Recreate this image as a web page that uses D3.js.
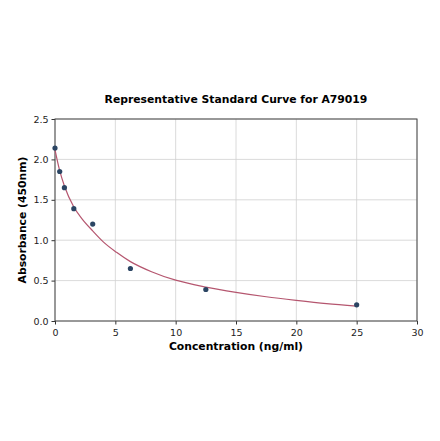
<!DOCTYPE html>
<html>
<head>
<meta charset="utf-8">
<script src="https://cdn.jsdelivr.net/npm/d3@7"></script>
<style>
  body { margin: 0; background: #fff; }
  text { font-family: "DejaVu Sans", sans-serif; }
</style>
</head>
<body>
<div id="chart"></div>
<script>
// measured standards
const conc = [0, 0.39, 0.78, 1.56, 3.125, 6.25, 12.5, 25];
const absorb = [2.14, 1.85, 1.65, 1.39, 1.2, 0.65, 0.39, 0.2];

// fitted curve
const curveX = [0, 0.39, 0.78, 1.56, 2.24, 3.125, 4, 5.1, 6.25, 8, 10, 12.5, 15, 17.5, 20, 22.5, 25];
const curveY = [2.12, 1.86, 1.67, 1.41, 1.265, 1.115, 0.98, 0.85, 0.735, 0.61, 0.505, 0.42, 0.355, 0.3, 0.255, 0.215, 0.185];

const xTicks = [0, 5, 10, 15, 20, 25, 30];
const yTicks = [0.0, 0.5, 1.0, 1.5, 2.0, 2.5];

const width = 440;
const height = 441;
const margin = {left: 55, right: 23, top: 119, bottom: 120};

var svg = d3.select("#chart")
	.append("svg")
	.attr("width", width)
	.attr("height", height);

var x = d3.scaleLinear().domain([0, 30]).range([margin.left, width - margin.right]);
var y = d3.scaleLinear().domain([0, 2.5]).range([height - margin.bottom, margin.top]);

// grid
svg.append("g")
	.selectAll("line")
	.data(xTicks)
	.enter()
	.append("line")
	.attr("x1", d => x(d)).attr("x2", d => x(d))
	.attr("y1", y(0)).attr("y2", y(2.5))
	.style("stroke", "#d0d0d0")
	.style("stroke-width", 0.8);

svg.append("g")
	.selectAll("line")
	.data(yTicks)
	.enter()
	.append("line")
	.attr("x1", x(0)).attr("x2", x(30))
	.attr("y1", d => y(d)).attr("y2", d => y(d))
	.style("stroke", "#d0d0d0")
	.style("stroke-width", 0.8);

// axes
var xAxis = svg.append("g")
	.attr("transform", "translate(0," + y(0) + ")")
	.call(d3.axisBottom(x).tickValues(xTicks).tickSize(3.5).tickSizeOuter(0).tickFormat(d3.format("d")));

var yAxis = svg.append("g")
	.attr("transform", "translate(" + x(0) + ",0)")
	.call(d3.axisLeft(y).tickValues(yTicks).tickSize(3.5).tickSizeOuter(0).tickFormat(d3.format(".1f")));

[xAxis, yAxis].forEach(function (a) {
	a.select(".domain").remove();
	a.selectAll("line").style("stroke", "#333");
	a.selectAll("text")
		.style("font-family", "DejaVu Sans, sans-serif")
		.style("font-size", "9.5px")
		.style("fill", "#222");
});
xAxis.selectAll("text").attr("dy", "0.85em");

// frame
svg.append("rect")
	.attr("x", x(0))
	.attr("y", y(2.5))
	.attr("width", x(30) - x(0))
	.attr("height", y(0) - y(2.5))
	.style("fill", "none")
	.style("stroke", "#444")
	.style("stroke-width", 1);

// curve
var line = d3.line()
	.x((d, i) => x(curveX[i]))
	.y(d => y(d))
	.curve(d3.curveMonotoneX);

svg.append("path")
	.attr("d", line(curveY))
	.style("fill", "none")
	.style("stroke", "#b5566f")
	.style("stroke-width", 1.2);

// points
svg.append("g")
	.selectAll("circle")
	.data(conc)
	.enter()
	.append("circle")
	.attr("cx", d => x(d))
	.attr("cy", (d, i) => y(absorb[i]))
	.attr("r", 2.6)
	.style("fill", "#2b4563");

// labels
svg.append("text")
	.attr("x", (x(0) + x(30)) / 2)
	.attr("y", 103)
	.attr("text-anchor", "middle")
	.style("font-size", "10.8px")
	.style("font-weight", "bold")
	.text("Representative Standard Curve for A79019");

svg.append("text")
	.attr("x", (x(0) + x(30)) / 2)
	.attr("y", 350)
	.attr("text-anchor", "middle")
	.style("font-size", "10.8px")
	.style("font-weight", "bold")
	.text("Concentration (ng/ml)");

svg.append("text")
	.attr("transform", "translate(26," + ((y(0) + y(2.5)) / 2) + ") rotate(-90)")
	.attr("text-anchor", "middle")
	.style("font-size", "10.8px")
	.style("font-weight", "bold")
	.text("Absorbance (450nm)");
</script>
</body>
</html>
